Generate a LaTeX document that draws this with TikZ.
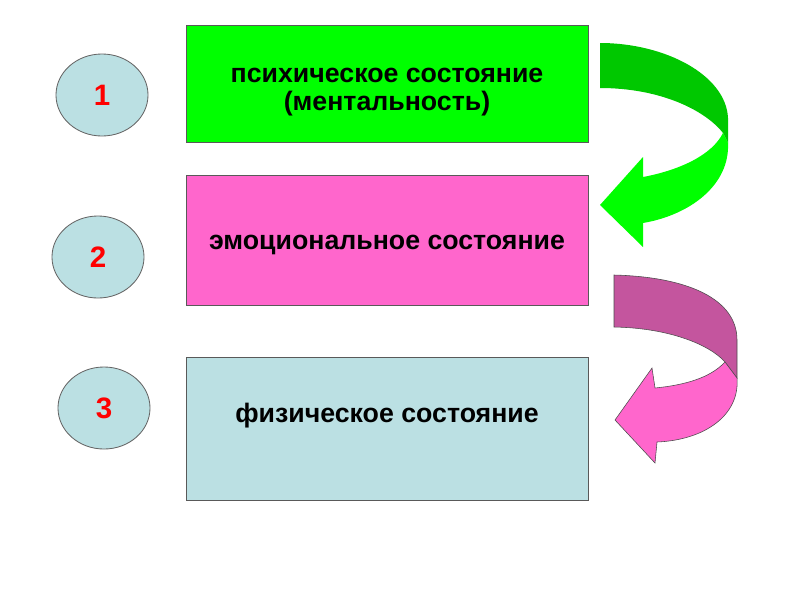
\documentclass[tikz,border=0pt]{standalone}
\usepackage{fontspec}
\setmainfont{Liberation Sans}
\usetikzlibrary{shapes, positioning}
\definecolor{stategreen}{HTML}{00FF00}
\definecolor{stategreendark}{HTML}{00C800}
\definecolor{statepink}{HTML}{FF66CC}
\definecolor{statepinkdark}{HTML}{C4559E}
\definecolor{stateblue}{HTML}{BBE0E3}
\tikzset{
	statebox/.style={draw=black!65, line width=0.6pt, minimum width=10.05cm},
	statetext/.style={align=center, font=\fontsize{19}{20}\selectfont\bfseries},
	numoval/.style={ellipse, draw=black!60, line width=0.6pt, fill=stateblue, minimum width=2.3cm, minimum height=2.05cm, text=red, font=\fontsize{21}{24}\selectfont\bfseries}
}

\begin{document}
\begin{tikzpicture}[x=0.025cm, y=-0.025cm]
				\useasboundingbox (0,0) rectangle (800,600);
				
				\node[statebox, fill=stategreen, minimum height=2.925cm] (S1) at (387,83.5) {};
				\node[statebox, fill=statepink, minimum height=3.25cm] (S2) at (387,240) {};
				\node[statebox, fill=stateblue, minimum height=3.575cm] (S3) at (387,428.5) {};
				
				\node[statetext] (T1) at (387,92.5) {психическое состояние\\(ментальность)};
				\node[statetext] (T2) at (387,245) {эмоциональное состояние};
				\node[statetext] (T3) at (387,416) {физическое состояние};
				
				\node[numoval] (N1) at (102,95) {1};
				\node[numoval] (N2) at (98,257) {2};
				\node[numoval] (N3) at (104,408) {3};
				
				\fill[stategreendark] (600,43) .. controls (665,43) and (726,75) .. (728,118) -- (728,143) -- (723,133) .. controls (705,110) and (660,88) .. (600,88) -- cycle;
				\fill[stategreen] (723,133) .. controls (712,155) and (680,170) .. (643,177) -- (643,157) -- (600,205) -- (643,247) -- (643,223) .. controls (690,215) and (730,185) .. (728,143) -- cycle;
				
				\filldraw[fill=statepinkdark, draw=black!70, line width=0.4pt] (614,275) .. controls (690,277) and (737,300) .. (737,340) -- (737,378) -- (725,362) .. controls (710,345) and (670,328) .. (614,327) -- cycle;
				\filldraw[fill=statepink, draw=black!70, line width=0.4pt] (725,362) .. controls (710,378) and (685,385) .. (655,388) -- (652,368) -- (615,420) -- (655,463) -- (657,442) .. controls (705,440) and (740,415) .. (737,378) -- cycle;
			\end{tikzpicture}
\end{document}
